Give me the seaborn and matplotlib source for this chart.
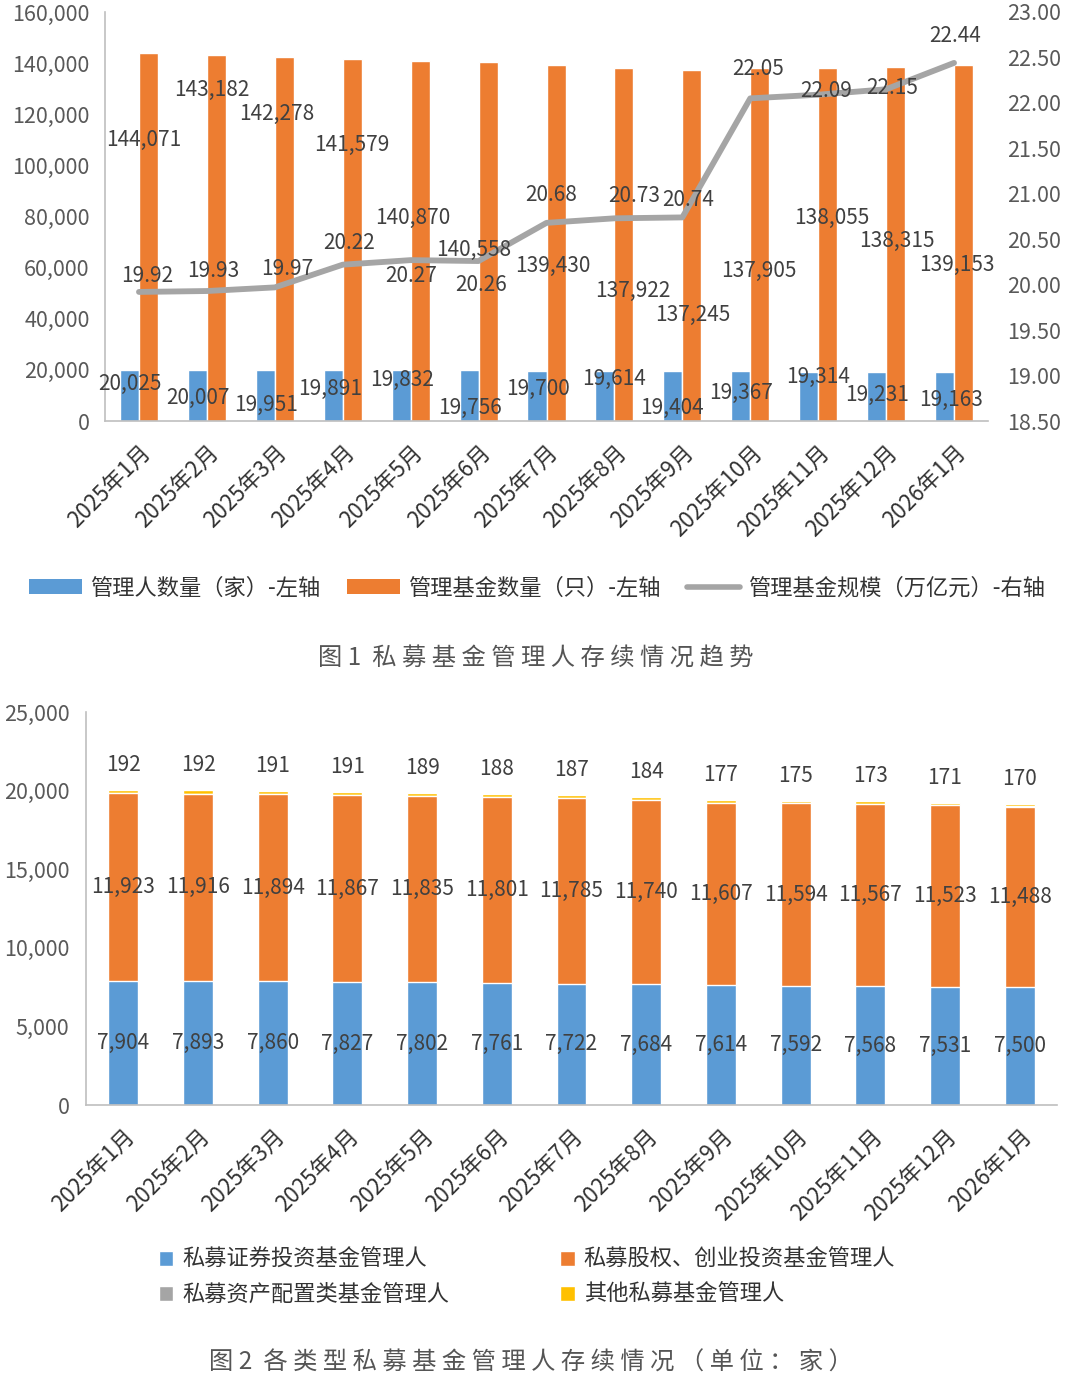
import numpy as np
import pandas as pd
import matplotlib
matplotlib.use("Agg")
import matplotlib.pyplot as plt
import seaborn as sns
from matplotlib.patches import Patch
from matplotlib.lines import Line2D
from matplotlib.ticker import FuncFormatter

# ---------------- data ----------------
months = ['2025年1月', '2025年2月', '2025年3月', '2025年4月', '2025年5月', '2025年6月',
          '2025年7月', '2025年8月', '2025年9月', '2025年10月', '2025年11月', '2025年12月',
          '2026年1月']
managers = [20025, 20007, 19951, 19891, 19832, 19756, 19700, 19614, 19404, 19367, 19314, 19231, 19163]
funds = [144071, 143182, 142278, 141579, 140870, 140558, 139430, 137922, 137245, 137905, 138055, 138315, 139153]
scale = [19.92, 19.93, 19.97, 20.22, 20.27, 20.26, 20.68, 20.73, 20.74, 22.05, 22.09, 22.15, 22.44]

securities = [7904, 7893, 7860, 7827, 7802, 7761, 7722, 7684, 7614, 7592, 7568, 7531, 7500]
equity_vc = [11923, 11916, 11894, 11867, 11835, 11801, 11785, 11740, 11607, 11594, 11567, 11523, 11488]
asset_alloc = [6, 6, 6, 6, 6, 6, 6, 6, 6, 6, 6, 6, 5]
other = [192, 192, 191, 191, 189, 188, 187, 184, 177, 175, 173, 171, 170]

ser_names = ['管理人数量（家）-左轴', '管理基金数量（只）-左轴', '管理基金规模（万亿元）-右轴']
type_names = ['私募证券投资基金管理人', '私募股权、创业投资基金管理人', '私募资产配置类基金管理人', '其他私募基金管理人']

# ---------------- layout (label placement, as in the reference) ----------------
orange_lab_dx = [0.07, 0.07, 0.03, 0.13, 0.03, -0.07, 0.09, 0.27, 0.16, 0.12, 0.20, 0.16, 0.04]
orange_lab_y = [109900, 129500, 120100, 108000, 79400, 66900, 60600, 50900, 41500, 58700, 79400, 70400, 61000]
blue_lab_dx = [-0.13, -0.13, -0.13, -0.19, -0.12, -0.13, -0.12, 0.0, -0.15, -0.13, 0.0, -0.13, -0.04]
blue_lab_y = [14500, 9000, 6300, 12500, 16000, 5100, 12500, 16400, 5100, 11000, 17200, 10200, 8200]
line_lab_dx = [0.12, 0.09, 0.18, 0.09, 0.01, 0.03, 0.07, 0.29, 0.09, 0.12, 0.12, 0.09, 0.01]
line_lab_y = [20.10, 20.15, 20.17, 20.46, 20.10, 20.00, 20.99, 20.98, 20.93, 22.37, 22.13, 22.16, 22.74]

BLUE = '#5B9BD5'
ORANGE = '#ED7D31'
GRAY = '#A5A5A5'
YELLOW = '#FFC000'
AXC = '#BFBFBF'
TICKC = '#595959'
LABC = '#404040'

sns.set_theme(style='white')
plt.rcParams['font.family'] = ['Noto Sans CJK SC', 'DejaVu Sans']
plt.rcParams['axes.unicode_minus'] = False

fig = plt.figure(figsize=(10.8, 13.84), dpi=100)

# ================= Figure 1 =================
ax1 = fig.add_axes([105 / 1080, 1 - 421 / 1384, (988 - 105) / 1080, (421 - 12) / 1384])
n = len(months)
x = np.arange(n)
df1 = pd.DataFrame({
    'month': months * 2,
    'value': managers + funds,
    'series': [ser_names[0]] * n + [ser_names[1]] * n,
})
sns.barplot(data=df1, x='month', y='value', hue='series', hue_order=ser_names[:2],
            palette=[BLUE, ORANGE], width=0.56, gap=0, saturation=1, ax=ax1,
            legend=False, errorbar=None)
ax1.set_xlim(-0.5, n - 0.5)
ax1.set_ylim(0, 160000)
ax1.set_yticks(np.arange(0, 160001, 20000))
ax1.yaxis.set_major_formatter(FuncFormatter(lambda v, p: f'{v:,.0f}'))
ax1.set_xlabel('')
ax1.set_ylabel('')
for s in ['top', 'right']:
    ax1.spines[s].set_visible(False)
for s in ['left', 'bottom']:
    ax1.spines[s].set_color(AXC)
    ax1.spines[s].set_linewidth(1.2)
ax1.set_xticks(x)
ax1.set_xticklabels(months, rotation=45, ha='right', rotation_mode='anchor')
ax1.set_xticks(np.arange(-0.5, n, 1.0), minor=True)
ax1.tick_params(axis='x', which='major', length=0, pad=14, labelsize=16, labelcolor='#333333')
ax1.tick_params(axis='x', which='minor', length=9, color=AXC, width=1.2, direction='out')
ax1.tick_params(axis='y', length=0, pad=11, labelsize=15.5, labelcolor=TICKC)

ax2 = ax1.twinx()
sns.lineplot(x=x, y=scale, ax=ax2, color=GRAY, linewidth=4.2, legend=False)
ax2.set_ylim(18.5, 23.0)
ax2.set_yticks(np.arange(18.5, 23.01, 0.5))
ax2.yaxis.set_major_formatter(FuncFormatter(lambda v, p: f'{v:.2f}'))
ax2.set_xlim(-0.5, n - 0.5)
ax2.set_ylabel('')
for s in ax2.spines.values():
    s.set_visible(False)
ax2.tick_params(axis='y', length=0, pad=14, labelsize=15.5, labelcolor=TICKC)

for i in range(n):
    ax2.text(i + orange_lab_dx[i], orange_lab_y[i], f'{funds[i]:,}', transform=ax1.transData,
             ha='center', va='center', fontsize=15, color=LABC)
    ax2.text(i + blue_lab_dx[i], blue_lab_y[i], f'{managers[i]:,}', transform=ax1.transData,
             ha='center', va='center', fontsize=15, color=LABC)
    ax2.text(i + line_lab_dx[i], line_lab_y[i], f'{scale[i]:.2f}',
             ha='center', va='center', fontsize=15, color=LABC)

h1 = [Patch(facecolor=BLUE, edgecolor='none'),
      Patch(facecolor=ORANGE, edgecolor='none'),
      Line2D([0], [0], color=GRAY, linewidth=4)]
fig.legend(h1, ser_names, loc='center', bbox_to_anchor=(0.497, 1 - 588 / 1384), ncol=3,
           frameon=False, fontsize=16, handlelength=2.4, handleheight=0.65,
           handletextpad=0.35, columnspacing=1.2, labelcolor='#333333')

fig.text(0.496, 1 - 658 / 1384, '图 1  ' + ' '.join('私募基金管理人存续情况趋势'),
         ha='center', va='center', fontsize=17.5, color='#555555', fontweight='light')

# ================= Figure 2 =================
ax3 = fig.add_axes([86 / 1080, 1 - 1105 / 1384, (1057 - 86) / 1080, (1105 - 712) / 1384])
sec = np.array(securities)
cum2 = sec + np.array(equity_vc)
cum3 = cum2 + np.array(asset_alloc)
cum4 = cum3 + np.array(other)
for vals, col in [(cum4, YELLOW), (cum3, GRAY), (cum2, ORANGE), (sec, BLUE)]:
    sns.barplot(x=months, y=vals, color=col, width=0.4, saturation=1, ax=ax3, errorbar=None)
ax3.set_xlim(-0.5, n - 0.5)
ax3.set_ylim(0, 25000)
ax3.set_yticks(np.arange(0, 25001, 5000))
ax3.yaxis.set_major_formatter(FuncFormatter(lambda v, p: f'{v:,.0f}'))
for s in ['top', 'right']:
    ax3.spines[s].set_visible(False)
for s in ['left', 'bottom']:
    ax3.spines[s].set_color(AXC)
    ax3.spines[s].set_linewidth(1.2)
ax3.set_xticks(x)
ax3.set_xticklabels(months, rotation=45, ha='right', rotation_mode='anchor')
ax3.set_xticks(np.arange(-0.5, n, 1.0), minor=True)
ax3.tick_params(axis='x', which='major', length=0, pad=14, labelsize=16, labelcolor='#333333')
ax3.tick_params(axis='x', which='minor', length=8, color=AXC, width=1.2, direction='out')
ax3.tick_params(axis='y', length=0, pad=12, labelsize=15.5, labelcolor=TICKC)

for i in range(n):
    ax3.text(i, sec[i] / 2, f'{securities[i]:,}', ha='center', va='center', fontsize=15, color=LABC)
    ax3.text(i, sec[i] + equity_vc[i] / 2, f'{equity_vc[i]:,}', ha='center', va='center',
             fontsize=15, color=LABC)
    ax3.annotate(f'{other[i]}', xy=(i, cum4[i]), xytext=(0, 18), textcoords='offset points',
                 ha='center', va='center', fontsize=15, color=LABC)

h2 = [Patch(facecolor=BLUE), Patch(facecolor=GRAY), Patch(facecolor=ORANGE), Patch(facecolor=YELLOW)]
l2 = [type_names[0], type_names[2], type_names[1], type_names[3]]
fig.legend(h2, l2, loc='center', bbox_to_anchor=(0.488, 1 - 1277 / 1384), ncol=2,
           frameon=False, fontsize=16, handlelength=0.65, handleheight=0.65,
           handletextpad=0.4, columnspacing=5.0, labelspacing=0.55, labelcolor='#333333')

fig.text(0.492, 1 - 1363 / 1384, '图 2  ' + ' '.join('各类型私募基金管理人存续情况（单位：家）'),
         ha='center', va='center', fontsize=17.5, color='#555555', fontweight='light')

fig.savefig('out.png', dpi=100, facecolor='white')
